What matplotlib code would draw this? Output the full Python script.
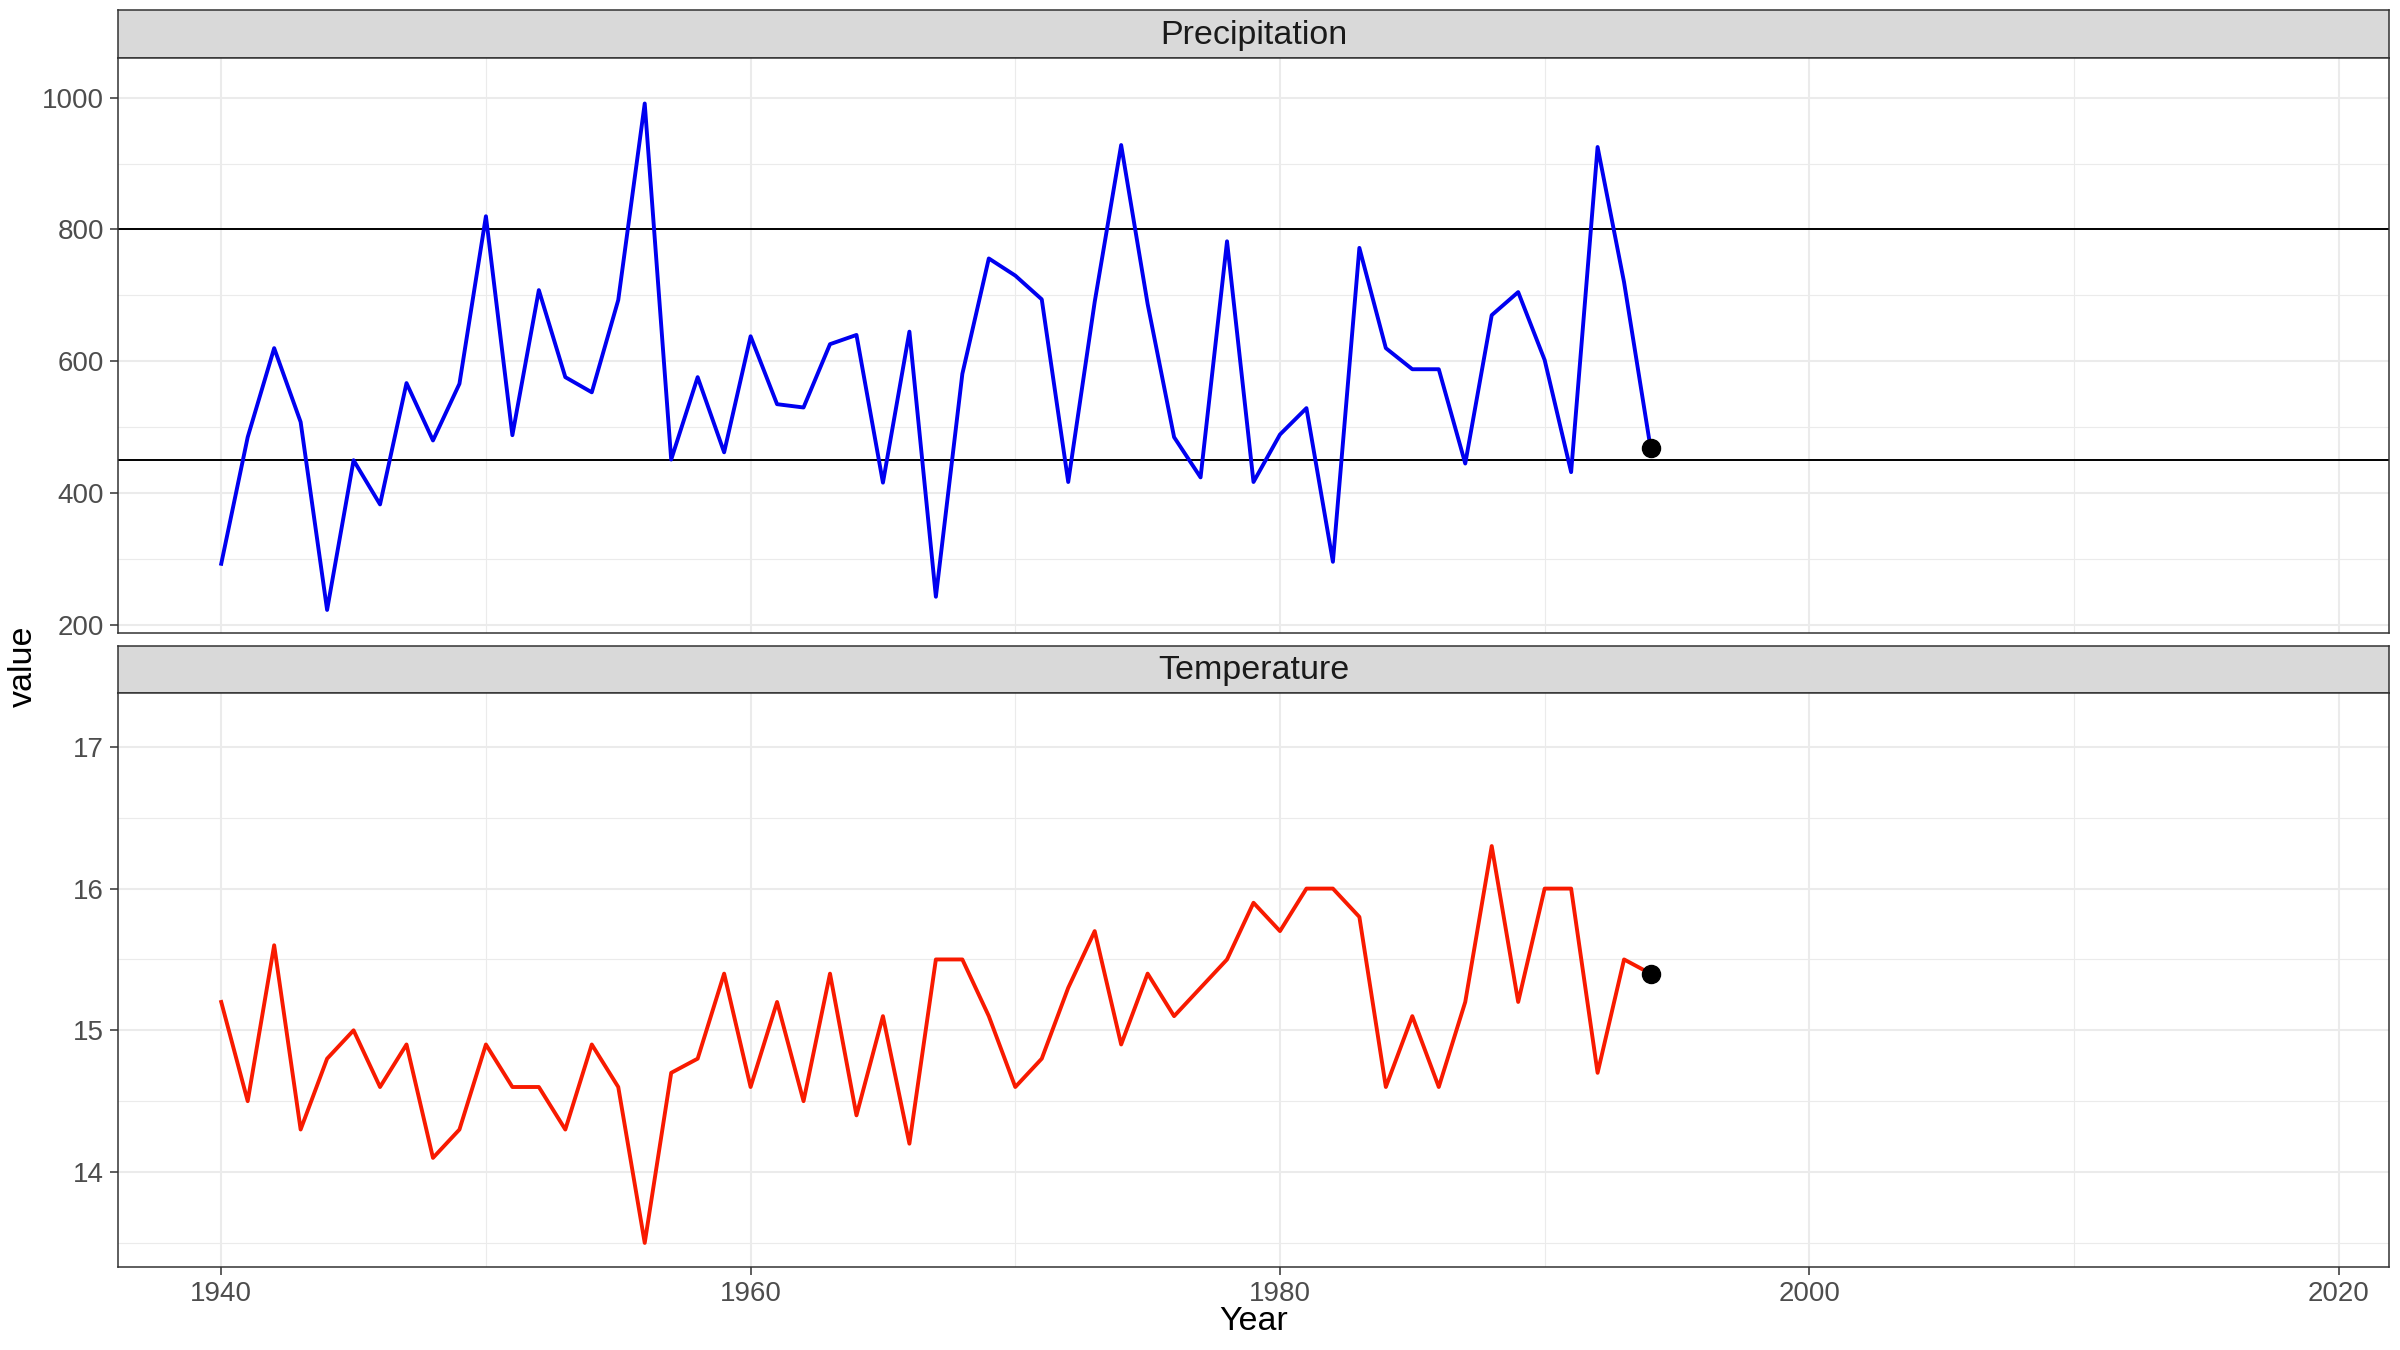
import matplotlib
matplotlib.use("Agg")
import matplotlib.pyplot as plt
from matplotlib.ticker import MultipleLocator

plt.rcParams['font.family'] = ['Liberation Sans', 'DejaVu Sans']

years = list(range(1940, 1995))
precipitation = [293, 485, 620, 508, 223, 450, 383, 567, 480, 566,
                 820, 488, 708, 576, 553, 693, 991, 451, 576, 462,
                 638, 535, 530, 626, 640, 416, 645, 243, 581, 756,
                 730, 694, 417, 690, 928, 687, 485, 424, 782, 417,
                 489, 529, 296, 772, 620, 588, 588, 445, 670, 705,
                 602, 432, 925, 720, 469]
temperature = [15.2, 14.5, 15.6, 14.3, 14.8, 15.0, 14.6, 14.9, 14.1, 14.3,
               14.9, 14.6, 14.6, 14.3, 14.9, 14.6, 13.5, 14.7, 14.8, 15.4,
               14.6, 15.2, 14.5, 15.4, 14.4, 15.1, 14.2, 15.5, 15.5, 15.1,
               14.6, 14.8, 15.3, 15.7, 14.9, 15.4, 15.1, 15.3, 15.5, 15.9,
               15.7, 16.0, 16.0, 15.8, 14.6, 15.1, 14.6, 15.2, 16.3, 15.2,
               16.0, 16.0, 14.7, 15.5, 15.4]
precip_hlines = [800, 450]
panel_titles = ["Precipitation", "Temperature"]
x_ticks = [1940, 1960, 1980, 2000, 2020]

W, H = 2400, 1350
fig = plt.figure(figsize=(24, 13.5), dpi=100)

def rect(l, t, r, b):
    return [l / W, 1 - b / H, (r - l) / W, (b - t) / H]

grey20 = '#333333'
grey92 = '#EBEBEB'
left, right = 118, 2389
panels = [
    dict(strip=(10, 58), panel=(58, 633), data=precipitation, color='#0000F0',
         ylim=(188, 1060), major=200, minor=100, hl=precip_hlines),
    dict(strip=(646, 693), panel=(693, 1267), data=temperature, color='#F81A00',
         ylim=(13.33, 17.38), major=1, minor=0.5, hl=[]),
]

for i, p in enumerate(panels):
    st, sb = p['strip']
    pt, pb = p['panel']
    sax = fig.add_axes(rect(left, st, right, sb))
    sax.set_facecolor('#D9D9D9')
    sax.set_xticks([]); sax.set_yticks([])
    for s in sax.spines.values():
        s.set_color(grey20); s.set_linewidth(1.1)
    sax.text(0.5, 0.47, panel_titles[i], ha='center', va='center',
             fontsize=24.5, color='#1A1A1A', transform=sax.transAxes)

    ax = fig.add_axes(rect(left, pt, right, pb))
    ax.set_xlim(1936.1, 2021.9)
    ax.set_ylim(*p['ylim'])
    ax.xaxis.set_major_locator(MultipleLocator(20))
    ax.xaxis.set_minor_locator(MultipleLocator(10))
    ax.yaxis.set_major_locator(MultipleLocator(p['major']))
    ax.yaxis.set_minor_locator(MultipleLocator(p['minor']))
    ax.grid(which='major', color=grey92, linewidth=1.5)
    ax.grid(which='minor', color=grey92, linewidth=0.8)
    ax.set_axisbelow(True)
    for s in ax.spines.values():
        s.set_color(grey20); s.set_linewidth(1.1)
    ax.tick_params(which='major', length=6, width=1.1, color=grey20,
                   labelsize=20, labelcolor='#4D4D4D', pad=4)
    ax.tick_params(which='minor', length=0)
    for h in p['hl']:
        ax.axhline(h, color='black', linewidth=1.4, zorder=2)
    ax.plot(years, p['data'], color=p['color'], linewidth=2.8, zorder=3)
    ax.plot([years[-1]], [p['data'][-1]], 'o', color='black', markersize=13, zorder=4)
    if i == 0:
        ax.tick_params(axis='x', labelbottom=False, length=0)
    else:
        ax.set_xticks(x_ticks)

fig.text(left / W + (right - left) / W / 2, 1 - 1321 / H, 'Year', ha='center', va='center',
         fontsize=24.5, color='black')
fig.text(23 / W, 1 - 666 / H, 'value', ha='center', va='center', rotation=90,
         fontsize=24.5, color='black')

fig.savefig('out.png', dpi=100, facecolor='white')
